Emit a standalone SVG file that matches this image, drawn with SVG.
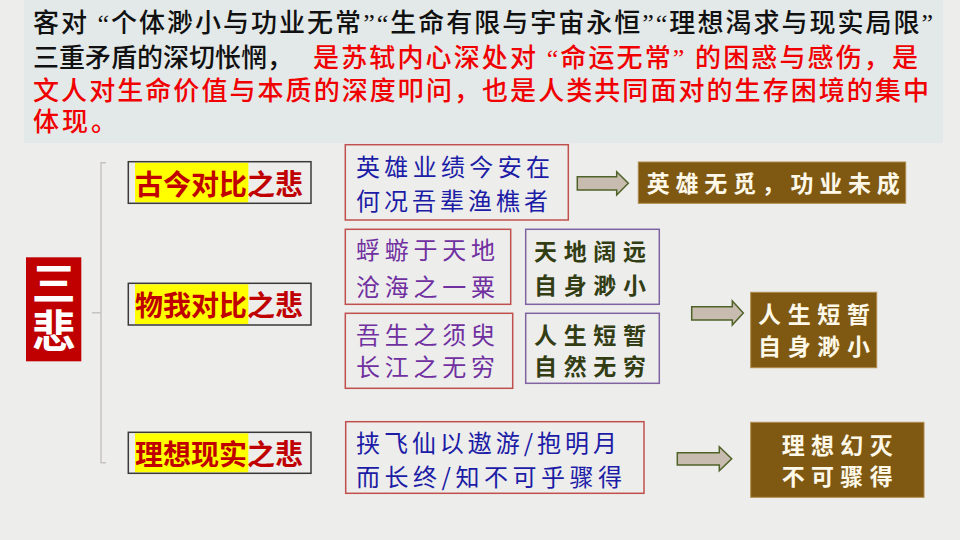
<svg xmlns="http://www.w3.org/2000/svg" width="960" height="540" viewBox="0 0 960 540">
<defs>
<style>
.top{font-family:"Liberation Serif","Noto Sans CJK SC",sans-serif;font-size:26px;font-weight:500}
.blk{fill:#111111}
.red{fill:#f00000}
.lbl{font-family:"Noto Sans CJK SC",sans-serif;font-size:28px;font-weight:700;fill:#c00000}
.lblbox{fill:none;stroke:#3a3a3a;stroke-width:1.5}
.hl{fill:#ffff00}
.poem{font-family:"Noto Sans CJK SC",sans-serif;font-size:24px}
.pbox{fill:none;stroke:#c0504d;stroke-width:1.5}
.vbox{fill:none;stroke:#8064a2;stroke-width:1.5}
.blue{fill:#1c1ca6}
.purple{fill:#7030a0}
.olive{font-family:"Noto Sans CJK SC",sans-serif;font-size:23px;font-weight:700;fill:#333d14}
.brown{fill:#7f5812;stroke:#b08a4a;stroke-width:1}
.btxt{font-family:"Noto Sans CJK SC",sans-serif;font-size:23px;font-weight:700;fill:#fdf8e8}
.arrow{fill:#c8bcb0;stroke:#4f6228;stroke-width:1.5;stroke-linejoin:miter}
.brk{fill:none;stroke:#c8c3be;stroke-width:1.5}
</style>
</defs>
<rect x="0" y="0" width="960" height="540" fill="#ededec"/>
<g id="intro">
<rect x="24" y="0" width="919" height="143" fill="#e3e9e8"/>
<text class="top blk" x="33" y="32" textLength="900">客对 “个体渺小与功业无常”“生命有限与宇宙永恒”“理想渴求与现实局限”</text>
<text class="top blk" x="33" y="66.5" textLength="260">三重矛盾的深切怅惘，</text>
<text class="top red" x="313" y="66.5" textLength="605">是苏轼内心深处对 “命运无常” 的困惑与感伤，是</text>
<text class="top red" x="33" y="99.8" textLength="896">文人对生命价值与本质的深度叩问，也是人类共同面对的生存困境的集中</text>
<text class="top red" x="33" y="130.6" textLength="84">体现。</text>
</g>
<g id="connectors">
<path class="brk" d="M106,162.7 H101 V462.7 H106 M92,312.7 H101"/>
<polygon class="arrow" points="577.3,176.7 616.7,176.7 616.7,171.7 628.3,183.3 616.7,195 616.7,190 577.3,190"/>
<polygon class="arrow" points="691.7,306.7 732.3,306.7 732.3,301 743.3,313 732.3,325 732.3,320 691.7,320"/>
<polygon class="arrow" points="677.3,452.7 719.3,452.7 719.3,446.7 731.7,458.7 719.3,470.7 719.3,465 677.3,465"/>
</g>
<g id="root">
<rect x="26" y="257.3" width="55.3" height="104" fill="#c00000"/>
<text x="53.7" y="309.5" writing-mode="tb" text-anchor="middle" letter-spacing="4" font-family="'Noto Sans CJK SC',sans-serif" font-size="44" font-weight="700" fill="#ffffff">三悲</text>
</g>
<g id="label-gujin">
<rect class="hl" x="135" y="162.7" width="113.3" height="39.6"/>
<rect class="lblbox" x="128.3" y="161.7" width="182.7" height="41.6"/>
<text class="lbl" x="135" y="194.5" textLength="168">古今对比之悲</text>
</g>
<g id="label-wuwo">
<rect class="hl" x="135" y="284.3" width="113.3" height="39.7"/>
<rect class="lblbox" x="128.3" y="283.3" width="182.7" height="41.7"/>
<text class="lbl" x="135" y="315.6" textLength="168">物我对比之悲</text>
</g>
<g id="label-lixiang">
<rect class="hl" x="135" y="433.3" width="113.3" height="39"/>
<rect class="lblbox" x="128.3" y="432.3" width="182.7" height="41"/>
<text class="lbl" x="135" y="465" textLength="168">理想现实之悲</text>
</g>
<g id="poem-yingxiong">
<rect class="pbox" x="345.3" y="144.7" width="223" height="75.3"/>
<text class="poem blue" x="356" y="175.5" textLength="194">英雄业绩今安在</text>
<text class="poem blue" x="356" y="209.8" textLength="192">何况吾辈渔樵者</text>
</g>
<g id="poem-fuyou">
<rect class="pbox" x="345.3" y="229.3" width="165.4" height="75"/>
<text class="poem purple" x="356" y="259" textLength="139">蜉蝣于天地</text>
<text class="poem purple" x="356" y="295.6" textLength="139">沧海之一粟</text>
</g>
<g id="note-tiandi">
<rect class="vbox" x="525.7" y="229.3" width="133.6" height="75"/>
<text class="olive" x="534" y="260.4" textLength="112">天地阔远</text>
<text class="olive" x="534" y="293.8" textLength="112">自身渺小</text>
</g>
<g id="poem-wusheng">
<rect class="pbox" x="345.3" y="313.3" width="167.4" height="75"/>
<text class="poem purple" x="356" y="344" textLength="139">吾生之须臾</text>
<text class="poem purple" x="356" y="375.6" textLength="139">长江之无穷</text>
</g>
<g id="note-rensheng">
<rect class="vbox" x="525.7" y="313.3" width="133.6" height="70"/>
<text class="olive" x="534" y="343.8" textLength="112">人生短暂</text>
<text class="olive" x="534" y="375.4" textLength="112">自然无穷</text>
</g>
<g id="poem-xiefei">
<rect class="pbox" x="345.7" y="421.7" width="298.3" height="71.6"/>
<text class="poem blue" x="356" y="452.3" textLength="261">挟飞仙以遨游/抱明月</text>
<text class="poem blue" x="356" y="485.6" textLength="266">而长终/知不可乎骤得</text>
</g>
<g id="result-yingxiong">
<rect class="brown" x="638.3" y="162" width="267.4" height="41.3"/>
<text class="btxt" x="646.7" y="192" textLength="253">英雄无觅，功业未成</text>
</g>
<g id="result-rensheng">
<rect class="brown" x="750.7" y="292.3" width="126" height="75.4"/>
<text class="btxt" x="758" y="322.8" textLength="112">人生短暂</text>
<text class="btxt" x="758" y="355.4" textLength="112">自身渺小</text>
</g>
<g id="result-lixiang">
<rect class="brown" x="750.7" y="422.3" width="173.3" height="75"/>
<text class="btxt" x="781.7" y="453.8" textLength="111">理想幻灭</text>
<text class="btxt" x="781.7" y="485.4" textLength="111">不可骤得</text>
</g>
</svg>
